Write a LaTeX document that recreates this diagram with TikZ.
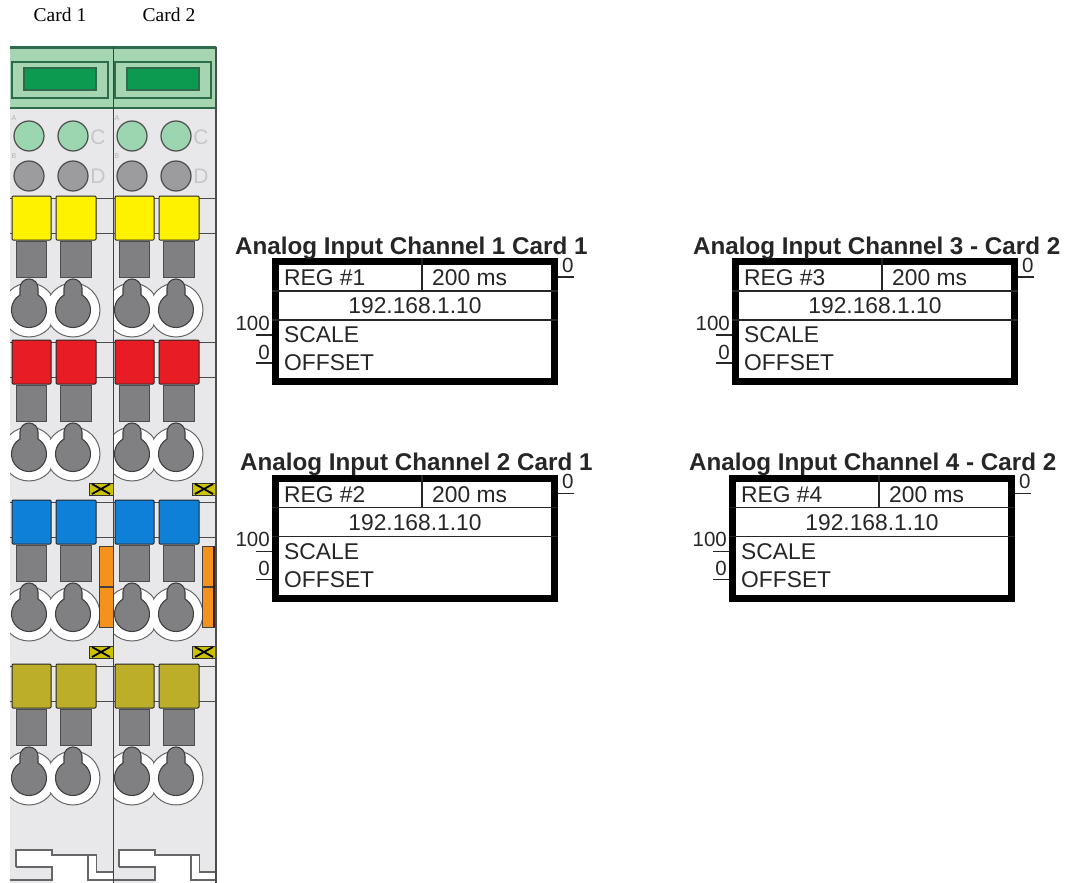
\documentclass[tikz,border=0pt]{standalone}
\usepackage{fontspec}
\setmainfont{Liberation Sans}
\newfontfamily\cardfont{Liberation Serif}
\usetikzlibrary{positioning}
\definecolor{bodygrey}{HTML}{E8E7E9}
\definecolor{headgreen}{HTML}{A6D5B2}
\definecolor{edgegreen}{HTML}{2E6B4C}
\definecolor{dispgreen}{HTML}{0B9A50}
\definecolor{ledgreen}{HTML}{9CD6B0}
\definecolor{ledgrey}{HTML}{9C9C9E}
\definecolor{slotgrey}{HTML}{808082}
\definecolor{lineyellow}{HTML}{FFF200}
\definecolor{linered}{HTML}{E81C24}
\definecolor{lineblue}{HTML}{0F80D8}
\definecolor{lineolive}{HTML}{BDAE2A}
\definecolor{tagorange}{HTML}{F5921E}
\definecolor{tagbrown}{HTML}{3A1E08}
\tikzset{
  cardlabel/.style={font=\cardfont\fontsize{19.5}{22}\selectfont},
  fbdtitle/.style={font=\bfseries\fontsize{24.2}{27}\selectfont,anchor=base west,inner sep=0pt,text=black!85},
  fbdbox/.style={draw=black,line width=7pt,fill=white,minimum width=279pt,minimum height=120pt,inner sep=0pt},
  fbdtext/.style={font=\fontsize{22.8}{26}\selectfont,inner sep=0pt,text=black!85},
  pinlabel/.style={font=\fontsize{20.5}{24}\selectfont,inner sep=0pt,text=black!85},
  fbdrule/.style={draw=black!85,line width=1.1pt},
  led/.style={circle,draw=black!70,line width=1.2pt,minimum size=30pt,inner sep=0pt},
  ledmark/.style={font=\fontsize{21}{24}\selectfont,text=black!22,inner sep=0pt},
  tinymark/.style={font=\fontsize{7}{8}\selectfont,text=black!30,inner sep=0pt},
  plug/.style={draw=black!85,line width=1pt,rounded corners=1pt},
  slotblock/.style={draw=black!70,line width=1pt,fill=slotgrey},
  ringline/.style={draw=black!60,line width=1pt,fill=white},
  footline/.style={draw=black!60,line width=1.2pt},
  keyslot/.pic={
    \filldraw[draw=black!75,line width=1.1pt,fill=slotgrey] (-9,15) -- (-9,22)
      arc[start angle=180,end angle=0,radius=9pt] -- (9,15)
      arc[start angle=59,end angle=-239,radius=17.5pt] -- cycle;
  },
  warntag/.pic={
    \filldraw[draw=black!80,line width=.9pt,fill=lineyellow!80!black] (0,0) rectangle (24,-12);
    \draw[black,line width=1.8pt] (3,-1) -- (21,-11) (3,-11) -- (21,-1);
  }
}
\newcommand{\fbdblock}[8]{
  \node[fbdbox] (#1box) at (#2,#3) {};
  \node[fbdtitle] (#1title) at (#4,#5) {#6};
  \coordinate (#1rowa) at ([yshift=-33pt]#1box.north west);
  \coordinate (#1rowaend) at ([yshift=-33pt]#1box.north east);
  \coordinate (#1rowb) at ([yshift=-62pt]#1box.north west);
  \coordinate (#1rowbend) at ([yshift=-62pt]#1box.north east);
  \coordinate (#1split) at ([xshift=150pt]#1box.north west);
  \coordinate (#1splitend) at ([xshift=150pt,yshift=-33pt]#1box.north west);
  \draw[fbdrule] (#1rowa) -- (#1rowaend);
  \draw[fbdrule] (#1rowb) -- (#1rowbend);
  \draw[fbdrule] (#1split) -- (#1splitend);
  \node[fbdtext,anchor=west] (#1reg) at ([xshift=12pt,yshift=-20pt]#1box.north west) {#7};
  \node[fbdtext,anchor=west] (#1time) at ([xshift=160pt,yshift=-20pt]#1box.north west) {200 ms};
  \node[fbdtext] (#1addr) at ([yshift=-48pt]#1box.north) {#8};
  \node[fbdtext,anchor=west] (#1scale) at ([xshift=12pt,yshift=-77pt]#1box.north west) {SCALE};
  \node[fbdtext,anchor=west] (#1offset) at ([xshift=12pt,yshift=-105pt]#1box.north west) {OFFSET};
  \node[pinlabel,anchor=east] (#1hundred) at ([xshift=-2pt,yshift=-65pt]#1box.north west) {100};
  \node[pinlabel,anchor=east] (#1zero) at ([xshift=-2pt,yshift=-94pt]#1box.north west) {0};
  \node[pinlabel,anchor=west] (#1out) at ([xshift=4pt,yshift=-7pt]#1box.north east) {0};
  \coordinate (#1pina) at ([xshift=-16pt,yshift=-77pt]#1box.north west);
  \coordinate (#1pinb) at ([xshift=-16pt,yshift=-105pt]#1box.north west);
  \coordinate (#1pinc) at ([xshift=16pt,yshift=-19pt]#1box.north east);
  \draw[fbdrule] (#1pina) -- (#1pina -| #1box.west);
  \draw[fbdrule] (#1pinb) -- (#1pinb -| #1box.west);
  \draw[fbdrule] (#1pinc) -- (#1pinc -| #1box.east);
}
\begin{document}
\begin{tikzpicture}[x=1pt,y=1pt]
  \useasboundingbox (0,0) rectangle (1074,-883);
  \fill[white] (0,0) rectangle (1074,-883);
  \node[cardlabel] (labela) at (60,-15) {Card 1};
  \node[cardlabel] (labelb) at (169,-15) {Card 2};
  \foreach \cx/\idx in {10/a,113/b} {
    \begin{scope}[shift={(\cx,0)}]
      \fill[bodygrey] (0,-47) rectangle (103,-883);
      \begin{scope}
        \clip (0,-47) rectangle (103,-883);
        \filldraw[draw=edgegreen,line width=1.2pt,fill=headgreen] (-1,-47) rectangle (104,-108);
        \fill[edgegreen] (-1,-46) rectangle (104,-49);
        \draw[draw=edgegreen,line width=1.2pt] (2,-62) rectangle (98,-98);
        \filldraw[draw=edgegreen,line width=1.4pt,fill=dispgreen] (14,-68) rectangle (86,-90);
        \foreach \lx in {19,63} {
          \node[led,fill=ledgreen] (led\idx\lx) at (\lx,-136) {};
          \node[led,fill=ledgrey] (ledg\idx\lx) at (\lx,-176) {};
        }
        \node[ledmark] (markc\idx) at (88,-137) {C};
        \node[ledmark] (markd\idx) at (88,-176) {D};
        \node[tinymark] (marka\idx) at (4,-118) {A};
        \node[tinymark] (markb\idx) at (4,-156) {B};
        \foreach \gy/\col in {196/lineyellow,340/linered,500/lineblue,664/lineolive} {
          \draw[black!70,line width=1pt] (0,-\gy-2) -- (103,-\gy-2) (0,-\gy-37) -- (103,-\gy-37);
          \filldraw[plug,fill=\col] (2,-\gy) rectangle (41,-\gy-44);
          \filldraw[plug,fill=\col] (46,-\gy) rectangle (86,-\gy-44);
          \filldraw[slotblock] (6,-\gy-45) rectangle (36,-\gy-81);
          \filldraw[slotblock] (50,-\gy-45) rectangle (81,-\gy-81);
          \filldraw[ringline] (19,-\gy-114) circle[radius=27pt];
          \filldraw[ringline] (63,-\gy-114) circle[radius=27pt];
          \fill[white] (19,-\gy-114) circle[radius=25.5pt];
          \fill[white] (63,-\gy-114) circle[radius=25.5pt];
          \pic at (19,-\gy-114) {keyslot};
          \pic at (63,-\gy-114) {keyslot};
        }
        \filldraw[draw=black!75,line width=1pt,fill=tagorange] (89,-546) rectangle (104,-627);
        \draw[black!75,line width=1.4pt] (89,-587) -- (103,-587);
        \pic at (79,-483) {warntag};
        \pic at (79,-646) {warntag};
        \fill[white] (6,-850) -- (42,-850) -- (42,-855) -- (86.7,-855) -- (86.7,-872) -- (104,-872) -- (104,-884) -- (42,-884) -- (42,-867) -- (6,-867) -- cycle;
        \draw[footline] (6,-867) -- (6,-850) -- (42,-850) -- (42,-855) -- (86.7,-855) -- (86.7,-872) -- (104,-872);
        \draw[footline] (78,-855) -- (78,-880) -- (104,-880);
        \draw[footline] (6,-867) -- (42,-867) -- (42,-880) -- (-1,-880);
      \end{scope}
    \end{scope}
  }
  \draw[black!75,line width=1pt] (113,-47) -- (113,-883);
  \fill[tagbrown] (213,-546) rectangle (216,-627);
  \draw[black!70,line width=1.4pt] (216,-47) -- (216,-883);
  \fbdblock{blka}{415}{-321.5}{235}{-254}{Analog Input Channel 1 Card 1}{REG \#1}{192.168.1.10}
  \fbdblock{blkb}{415}{-538}{240}{-470}{Analog Input Channel 2 Card 1}{REG \#2}{192.168.1.10}
  \fbdblock{blkc}{875}{-321.5}{693}{-254}{Analog Input Channel 3 - Card 2}{REG \#3}{192.168.1.10}
  \fbdblock{blkd}{872}{-538}{689}{-470}{Analog Input Channel 4 - Card 2}{REG \#4}{192.168.1.10}
\end{tikzpicture}
\end{document}
